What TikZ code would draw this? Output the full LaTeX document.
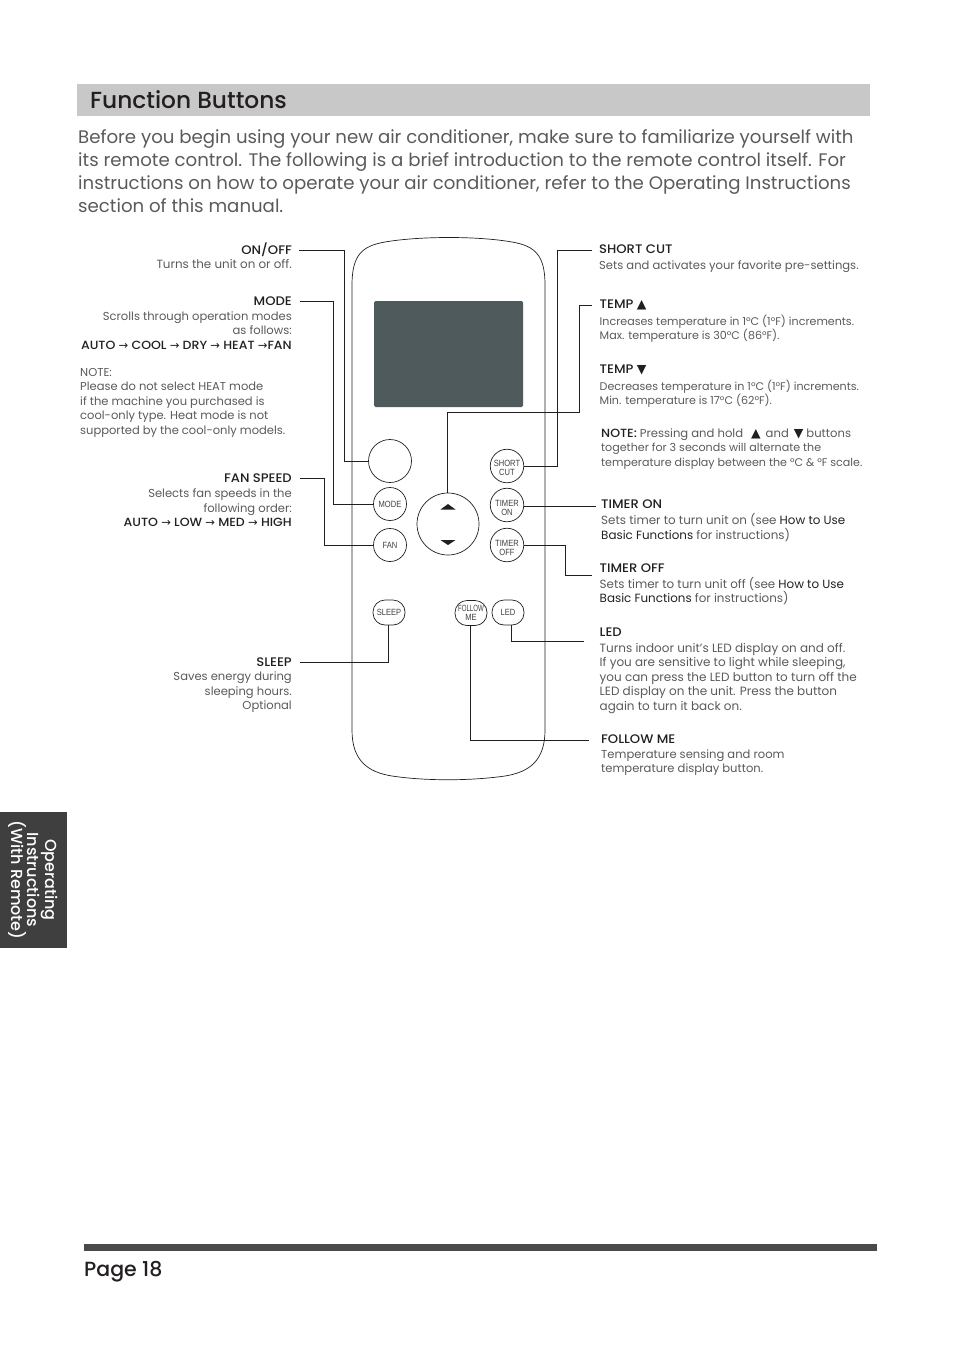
\documentclass[tikz,border=0pt]{standalone}
\usepackage{fontspec}
\setmainfont{Poppins}
\newfontfamily\medfont{Poppins Medium}
\newfontfamily\titlefont[FakeStretch=1.06]{Poppins Medium}
\newfontfamily\symfont{DejaVu Sans}
\newfontfamily\btnfont[FakeStretch=0.84]{Liberation Sans}
\newfontfamily\btnnarrow[FakeStretch=0.68]{Liberation Sans}
\usetikzlibrary{calc}
\definecolor{inkdark}{HTML}{231F20}
\definecolor{inkgrey}{HTML}{5A5A5A}
\definecolor{btngrey}{HTML}{404040}
\definecolor{barlight}{HTML}{C8C8C8}
\definecolor{bardark}{HTML}{4A4A4A}
\definecolor{tabdark}{HTML}{3F3F3F}
\definecolor{screengrey}{HTML}{4F5A5C}
\newcommand{\toarrow}{{\symfont\fontsize{11.5}{10}\selectfont →}}
\newcommand{\uptri}{{\symfont\fontsize{12.5}{10}\selectfont ▲}}
\newcommand{\downtri}{{\symfont\fontsize{12.5}{10}\selectfont ▼}}
\newcommand{\darktext}[1]{\textcolor{inkdark}{#1}}
\newcommand{\boldtext}[1]{\textcolor{inkdark}{\titlefont\fontsize{11.85}{14.5}\selectfont #1}}
\newcommand{\btnstrut}[1]{\rule{0pt}{#1}}
\tikzset{
  titleleft/.style={anchor=east, inner sep=0pt, text=inkdark, font=\titlefont\fontsize{12.4}{14.5}\selectfont},
  titleright/.style={anchor=west, inner sep=0pt, text=inkdark, font=\titlefont\fontsize{12.4}{14.5}\selectfont},
  bodysize/.style={font=\fontsize{#1}{14.5}\selectfont},
  bodyleft/.style={anchor=north east, inner sep=0pt, align=right, text=inkgrey, bodysize=11.55},
  bodyright/.style={anchor=north west, inner sep=0pt, align=left, text=inkgrey, bodysize=11.55},
  roundbtn/.style={draw=inkdark, line width=0.7pt, circle, inner sep=0pt, align=center, text=btngrey, font=\btnfont\fontsize{9}{9}\selectfont},
  pillbtn/.style={draw=inkdark, line width=0.7pt, rounded corners=12pt, inner sep=0pt, minimum width=32pt, minimum height=25pt, align=center, text=btngrey, font=\btnfont\fontsize{9}{9}\selectfont},
  leader/.style={draw=inkdark, line width=1pt}
}
\begin{document}
\begin{tikzpicture}[x=1pt, y=-1pt]
\useasboundingbox (0,0) rectangle (954,1354);

% header
\fill[barlight] (77,84) rectangle (870,116);
\node (heading) [anchor=west, inner sep=0pt, text=inkdark, font=\medfont\fontsize{23.3}{26}\selectfont] at (90,100) {Function Buttons};
\node (intro) [anchor=north west, inner sep=0pt, align=left, text=inkgrey, font=\fontsize{18.15}{23}\selectfont] at (78,129)
  {Before you begin using your new air conditioner, make sure to familiarize yourself with\\
   its remote control. The following is a brief introduction to the remote control itself. For\\
   instructions on how to operate your air conditioner, refer to the Operating Instructions\\
   section of this manual.};

% remote outline
\draw[draw=inkdark, line width=0.7pt] (352,285) .. controls (352,255) and (362,246) .. (385,242)
  .. controls (420,236) and (478,236) .. (512,242) .. controls (535,246) and (545,255) .. (545,285)
  -- (545,730) .. controls (545,760) and (530,772) .. (505,776)
  .. controls (470,781) and (425,781) .. (392,776) .. controls (367,772) and (352,760) .. (352,730) -- cycle;
\draw[fill=screengrey, draw=none, rounded corners=1.5pt] (374,301) rectangle (523,407);

% buttons
\node (power) [roundbtn, minimum size=43pt] at (390,461) {};
\node (mode) [roundbtn, minimum size=33pt] at (390,504) {MODE};
\node (fan) [roundbtn, minimum size=33pt] at (390,545) {FAN};
\node (cut) [roundbtn, minimum size=33.5pt] at (507,466) {\btnstrut{10pt}SHORT\\CUT};
\node (timeron) [roundbtn, minimum size=33.5pt] at (507,505) {\btnstrut{12pt}TIMER\\ON};
\node (timeroff) [roundbtn, minimum size=33.5pt] at (507,545) {\btnstrut{12pt}TIMER\\OFF};
\node (updown) [roundbtn, minimum size=62pt] at (448,524) {};
\fill[inkdark] (440.5,509.5) -- (448,504) -- (455.5,509.5) -- cycle;
\fill[inkdark] (440.5,540) -- (448,545) -- (455.5,540) -- cycle;
\node (sleep) [pillbtn] at (389,612.5) {SLEEP};
\node (follow) [pillbtn] at (471,613) {{\btnnarrow FOLLOW}\\ME};
\node (led) [pillbtn] at (508,612.5) {LED};

% left labels
\node (onoff) [titleleft] at (292,250) {ON/OFF};
\node (onoffbody) [bodyleft, bodysize=11.9] at (292,259.5) {Turns the unit on or off.};
\node (modetitle) [titleleft] at (292,301) {MODE};
\node (modebody) [bodyleft] at (292,311.5) {Scrolls through operation modes\\as follows:\\
  \boldtext{AUTO \toarrow\ COOL \toarrow\ DRY \toarrow\ HEAT \toarrow FAN}};
\node (modenote) [bodyleft, align=left, anchor=north west, bodysize=11.5] at (80,368) {NOTE:\\Please do not select HEAT mode\\if the machine you purchased is\\cool-only type. Heat mode is not\\supported by the cool-only models.};
\node (fantitle) [titleleft] at (292,478) {FAN SPEED};
\node (fanbody) [bodyleft] at (292,488.5) {Selects fan speeds in the\\following order:\\
  \boldtext{AUTO \toarrow\ LOW \toarrow\ MED \toarrow\ HIGH}};
\node (sleeptitle) [titleleft] at (292,662) {SLEEP};
\node (sleepbody) [bodyleft] at (292,672) {Saves energy during\\sleeping hours.\\Optional};

% right labels
\node (cuttitle) [titleright] at (599,249) {SHORT CUT};
\node (cutbody) [bodyright] at (599,260) {Sets and activates your favorite pre-settings.};
\node (tempup) [titleright] at (599.5,305) {TEMP \uptri};
\node (tempupbody) [bodyright, bodysize=11.1] at (599.5,314.5) {Increases temperature in 1°C (1°F) increments.\\Max. temperature is 30°C (86°F).};
\node (tempdown) [titleright] at (599.5,370) {TEMP \downtri};
\node (tempdownbody) [bodyright, bodysize=11.1] at (599.5,379.5) {Decreases temperature in 1°C (1°F) increments.\\Min. temperature is 17°C (62°F).};
\node (tempnote) [bodyright, bodysize=11.1] at (601,428) {\boldtext{NOTE:} {\fontsize{11.6}{14.5}\selectfont Pressing and hold\hspace{8pt}\darktext{\uptri}\hspace{5pt}and\hspace{5pt}\darktext{\downtri}\hspace{3pt}buttons}\\together for 3 seconds will alternate the\\temperature display between the °C \& °F scale.};
\node (ontitle) [titleright] at (601,504) {TIMER ON};
\node (onbody) [bodyright, bodysize=11.9] at (601,513.5) {Sets timer to turn unit on (see \darktext{How to Use}\\\darktext{Basic Functions} for instructions)};
\node (offtitle) [titleright] at (599.5,568) {TIMER OFF};
\node (offbody) [bodyright, bodysize=11.9] at (599.5,577) {Sets timer to turn unit off (see \darktext{How to Use}\\\darktext{Basic Functions} for instructions)};
\node (ledtitle) [titleright] at (599.5,632) {LED};
\node (ledbody) [bodyright, bodysize=12] at (599.5,643) {Turns indoor unit's LED  display on and off.\\If you are sensitive to light while sleeping,\\you can press the LED button to turn off the\\LED display on the unit. Press the button\\again to turn it back on.};
\node (followtitle) [titleright] at (601,739) {FOLLOW ME};
\node (followbody) [bodyright] at (601,749.5) {Temperature sensing and room\\temperature display button.};

% leaders
\coordinate (onoffend) at (299,250);
\coordinate (modeend) at (300,301);
\coordinate (fanend) at (300,478);
\coordinate (sleepend) at (300,662);
\coordinate (cutend) at (592,250);
\coordinate (tempend) at (592,305);
\coordinate (onend) at (596,506);
\coordinate (offend) at (592,575);
\coordinate (ledend) at (584,641);
\coordinate (followend) at (589,740);
\draw[leader] (onoffend) -| (344,461) -- (power.west);
\draw[leader] (modeend) -| (333.5,504) -- (mode.west);
\draw[leader] (fanend) -| (324,545) -- (fan.west);
\draw[leader] (sleepend) -| ([xshift=-1pt]sleep.south);
\draw[leader] (cutend) -| (557,466) -- (cut.east);
\draw[leader] (tempend) -| (579,412) -| ([xshift=-1pt]updown.north);
\draw[leader] (onend) -- (onend -| timeron.east);
\draw[leader] (offend) -| (565,545) -- (timeroff.east);
\draw[leader] (ledend) -| (511,625);
\draw[leader] (followend) -| ([xshift=-1pt]follow.south);

% side tab
\fill[tabdark] (0,812) rectangle (67,948);
\node (tabtext) [rotate=-90, inner sep=0pt, align=center, text=white, font=\medfont\fontsize{16}{16}\selectfont] at (33,880) {Operating\\Instructions\\(With Remote)};

% footer
\fill[bardark] (84,1244) rectangle (877,1251);
\node (pagenum) [anchor=west, inner sep=0pt, text=inkdark, font=\medfont\fontsize{20.5}{24}\selectfont] at (84,1271.5) {Page 18};
\end{tikzpicture}
\end{document}
